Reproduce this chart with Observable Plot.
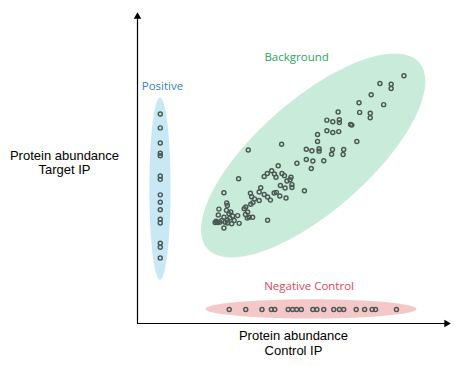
<!DOCTYPE html>
<html><head><meta charset="utf-8">
<script src="https://cdn.jsdelivr.net/npm/d3@7"></script>
<script src="https://cdn.jsdelivr.net/npm/@observablehq/plot@0.6"></script>
<style>html,body{margin:0;padding:0;background:#fff;} #chart svg{display:block}</style>
</head><body><div id="chart"></div>
<script>
// ---- data (arbitrary abundance units, 0-100) ----
const positiveX = 7.3;
const positiveY = [67.6, 63.1, 58.2, 54.9, 54.1, 47.6, 46.5, 41.5, 39.1, 36.7, 33.6, 32.4, 25.9, 24.6, 21.1];

const negativeY = 4.5;
const negativeX = [29.4, 34.7, 39.9, 42.9, 44.0, 48.3, 49.7, 51.0, 52.5, 56.2, 57.5, 59.7, 62.9, 64.7, 66.1, 70.1, 72.8, 75.2, 76.3, 83.0];

const backgroundX = [85.4, 77.7, 81.3, 81.3, 74.9, 78.9, 71.0, 71.2, 74.6, 74.6, 64.3, 60.7, 62.6, 64.7, 64.7, 68.3, 68.7,
  57.7, 60.7, 62.6, 64.5, 70.3, 57.7, 54.1, 55.9, 58.2, 58.2, 62.5, 62.2, 66.1, 65.9, 46.2, 35.5, 54.1, 56.2, 59.7, 55.7,
  51.1, 53.5, 45.1, 32.4, 27.7, 41.7, 43.0, 41.6, 40.6, 44.4, 46.3, 47.1, 49.2, 48.9, 47.9, 49.5, 49.5, 45.8, 47.3, 43.8,
  44.5, 45.6, 47.6, 39.5, 39.0, 36.2, 40.6, 41.7, 42.6, 37.5, 37.0, 36.3, 39.0, 34.7, 34.2, 43.9, 35.3, 34.6, 35.8, 35.2,
  36.9, 28.6, 28.8, 26.1, 25.9, 25.2, 25.7, 26.4, 27.7, 27.0, 28.1, 28.8, 29.3, 29.9, 30.5, 32.1, 29.6, 31.0, 32.6, 30.2,
  27.7, 28.8, 28.5, 24.9, 36.6];
const backgroundY = [79.9, 77.4, 77.2, 75.8, 73.8, 70.6, 71.2, 68.1, 67.8, 66.4, 68.2, 65.6, 65.1, 65.7, 64.8, 64.2, 64.0,
  61.0, 62.2, 61.6, 61.9, 58.7, 58.7, 56.2, 55.7, 56.4, 55.6, 56.1, 54.6, 56.1, 54.5, 57.8, 56.0, 52.9, 52.4, 52.5, 50.0,
  51.7, 42.8, 50.9, 46.7, 42.2, 33.3, 49.3, 48.4, 47.4, 47.2, 48.4, 47.7, 47.2, 46.4, 46.0, 44.8, 43.9, 44.5, 43.7, 42.1,
  42.3, 41.1, 40.5, 43.8, 42.4, 42.0, 41.6, 40.8, 39.8, 40.2, 39.0, 38.5, 39.7, 37.6, 37.0, 48.2, 36.0, 35.2, 34.3, 34.0,
  34.3, 38.9, 38.1, 36.9, 35.0, 33.0, 32.6, 32.7, 34.3, 33.2, 32.7, 33.4, 35.4, 36.0, 34.7, 34.8, 34.0, 33.2, 32.3, 32.2,
  30.8, 32.4, 36.5, 32.6, 40.9];

// group regions (ellipses): centre, semi-axes, rotation in degrees
const groups      = ["Positive", "Background", "Negative Control"];
const groupCx     = [7.2, 56.3, 55.6];
const groupCy     = [43.5, 54.2, 4.7];
const groupRa     = [3.4, 45.3, 33.8];
const groupRb     = [29.4, 17.9, 3.1];
const groupAngle  = [0, 41.5, 0];
const groupLabelX = [8.0, 51.0, 55.0];
const groupLabelY = [76.5, 85.8, 11.9];
const groupFill   = ["#c8e8f6", "#c9ebda", "#f4c7c8"];
const groupText   = ["#2f86c3", "#2ba560", "#e0465a"];

const xTitle = "Protein abundance\nControl IP";
const yTitle = "Protein abundance\nTarget IP";

// ---- build tables ----
const points = [
  ...positiveY.map(y => ({x: positiveX, y})),
  ...negativeX.map(x => ({x, y: negativeY})),
  ...backgroundX.map((x, i) => ({x, y: backgroundY[i]}))
];

const outline = groups.flatMap((g, i) => {
  const th = groupAngle[i] * Math.PI / 180;
  return d3.range(0, 360, 2).map(deg => {
    const t = deg * Math.PI / 180;
    const a = groupRa[i] * Math.cos(t), b = groupRb[i] * Math.sin(t);
    return {g, x: groupCx[i] + a * Math.cos(th) - b * Math.sin(th),
               y: groupCy[i] + a * Math.sin(th) + b * Math.cos(th)};
  });
});
const labels = groups.map((g, i) => ({g, x: groupLabelX[i], y: groupLabelY[i]}));

const chart = Plot.plot({
  width: 460, height: 366,
  marginLeft: 137, marginRight: 11, marginTop: 13, marginBottom: 43,
  x: {domain: [0, 100], axis: null},
  y: {domain: [0, 100], axis: null},
  color: {domain: groups, range: groupFill},
  style: {background: "#fff", overflow: "visible"},
  marks: [
    Plot.line(outline, {x: "x", y: "y", z: "g", fill: "g", stroke: null, curve: "linear-closed"}),
    Plot.dot(points, {x: "x", y: "y", r: 2.0, stroke: "#4a5853", strokeWidth: 1.45, fill: "none"}),
    Plot.text(labels, {x: "x", y: "y", text: "g", fill: (d, i) => groupText[i], fontFamily: "Open Sans",
      fontSize: 11.5}),
    Plot.ruleX([0], {y1: 0, y2: 99, stroke: "#000", strokeWidth: 1.2}),
    Plot.ruleY([0], {x1: 0, x2: 99, stroke: "#000", strokeWidth: 1.2}),
    Plot.dot([{x: 0, y: 100}], {x: "x", y: "y", symbol: "triangle2", r: 3.6, fill: "#000", dy: 3}),
    Plot.dot([{x: 100, y: 0}], {x: "x", y: "y", symbol: "triangle2", r: 3.6, fill: "#000", rotate: 90, dx: -3}),
    Plot.text([xTitle], {frameAnchor: "bottom", text: d => d, lineAnchor: "top", dy: 6,
      fontFamily: "Liberation Sans", fontSize: 13, lineHeight: 1.15, fill: "#000"}),
    Plot.text([yTitle], {frameAnchor: "left", text: d => d, textAnchor: "middle", dx: -73, dy: -6,
      fontFamily: "Liberation Sans", fontSize: 13, lineHeight: 1.1, fill: "#000"})
  ]
});
document.getElementById("chart").appendChild(chart);
</script></body></html>
